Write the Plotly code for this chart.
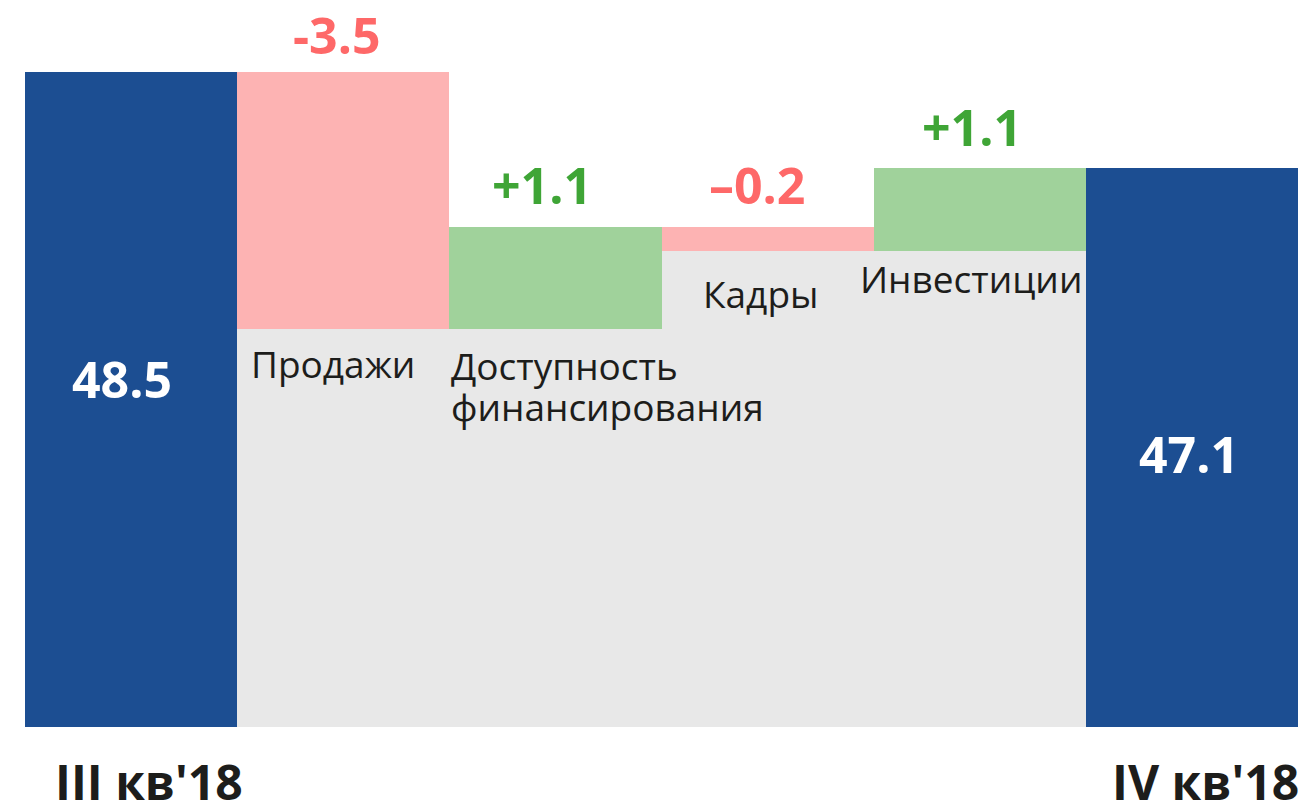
import plotly.graph_objects as go

# ---- data ----
categories = ["III кв'18", "Продажи", "Доступность<br>финансирования", "Кадры", "Инвестиции", "IV кв'18"]
start_value = 48.5
end_value = 47.1
start_label = "48.5"
end_label = "47.1"
# level reached after each factor, in the axis units of the picture
levels_after = [44.76, 46.24, 45.89, 47.1]
delta_labels = ["-3.5", "+1.1", "–0.2", "+1.1"]

# ---- styles ----
Y_RANGE = [38.95, 49.55]
BLUE = "#1c4e92"
PINK = "#fdb3b3"
GREEN = "#a0d29b"
GREY = "#e8e8e8"
RED_TXT = "#fe6868"
GREEN_TXT = "#3fa536"
DARK_TXT = "#1d1d1b"
FONT = "Open Sans"
DELTA_SHIFTS = [(-6, 1), (-13, 6), (-11, 6), (-8, 5)]

y0 = Y_RANGE[0]
prev_levels = [start_value] + levels_after[:-1]
mid_x = [1, 2, 3, 4]

fig = go.Figure()

# end bars
fig.add_trace(go.Bar(
    x=[0, 5], y=[start_value - y0, end_value - y0], base=[y0, y0],
    marker=dict(color=BLUE, line=dict(width=0)), width=1, hoverinfo="skip"))

# grey base under the factor bars
low = [min(p, n) for p, n in zip(prev_levels, levels_after)]
high = [max(p, n) for p, n in zip(prev_levels, levels_after)]
fig.add_trace(go.Bar(
    x=mid_x, y=[l - y0 for l in low], base=[y0] * 4,
    marker=dict(color=GREY, line=dict(width=0)), width=1, hoverinfo="skip"))

# factor bars
colors = [GREEN if n > p else PINK for p, n in zip(prev_levels, levels_after)]
fig.add_trace(go.Bar(
    x=mid_x, y=[h - l for h, l in zip(high, low)], base=low,
    marker=dict(color=colors, line=dict(width=0)), width=1, hoverinfo="skip"))

ann = []
# values in blue bars
ann.append(dict(x=0, y=(y0 + start_value) / 2, text=f"<b>{start_label}</b>", showarrow=False,
                font=dict(family=FONT, size=50, color="white"), xshift=-9, yshift=21))
ann.append(dict(x=5, y=(y0 + end_value) / 2, text=f"<b>{end_label}</b>", showarrow=False,
                font=dict(family=FONT, size=50, color="white"), xshift=-3, yshift=-6))

# delta labels
for x, h, lab, (xs, ys) in zip(mid_x, high, delta_labels, DELTA_SHIFTS):
    col = GREEN_TXT if lab.startswith("+") else RED_TXT
    ann.append(dict(x=x, y=h, text=f"<b>{lab}</b>", showarrow=False, yanchor="bottom",
                    xshift=xs, yshift=ys, font=dict(family=FONT, size=50, color=col)))

# category labels inside the grey area
cat_style = [
    dict(xa="left", dx=-0.5, xs=12, ys=-7),
    dict(xa="left", dx=-0.5, xs=0, ys=-9),
    dict(xa="center", dx=0.0, xs=-7, ys=-15),
    dict(xa="left", dx=-0.5, xs=-16, ys=0),
]
for x, l, cat, st in zip(mid_x, low, categories[1:5], cat_style):
    for j, line in enumerate(cat.split("<br>")):
        ann.append(dict(x=x + st["dx"], y=l, text=line, showarrow=False, xanchor=st["xa"], yanchor="top",
                        xshift=st["xs"], yshift=st["ys"] - 41 * j,
                        font=dict(family=FONT, size=37, color=DARK_TXT)))

# period labels below
ann.append(dict(x=-0.5, y=0, yref="paper", text=f"<b>{categories[0]}</b>", showarrow=False,
                xanchor="left", yanchor="top", xshift=28, yshift=-20,
                font=dict(family=FONT, size=48, color=DARK_TXT)))
ann.append(dict(x=5.5, y=0, yref="paper", text=f"<b>{categories[5]}</b>", showarrow=False,
                xanchor="right", yanchor="top", xshift=3, yshift=-20,
                font=dict(family=FONT, size=48, color=DARK_TXT)))

fig.update_layout(
    width=1303, height=803,
    margin=dict(l=25, r=5, t=0, b=76),
    barmode="overlay", bargap=0,
    showlegend=False,
    plot_bgcolor="white", paper_bgcolor="white",
    xaxis=dict(range=[-0.5, 5.5], visible=False, fixedrange=True),
    yaxis=dict(range=Y_RANGE, visible=False, fixedrange=True),
    annotations=ann,
)

fig.write_html("out.html", config={"displayModeBar": False},
               post_script="document.body.style.margin='0';document.body.style.overflow='hidden';")
